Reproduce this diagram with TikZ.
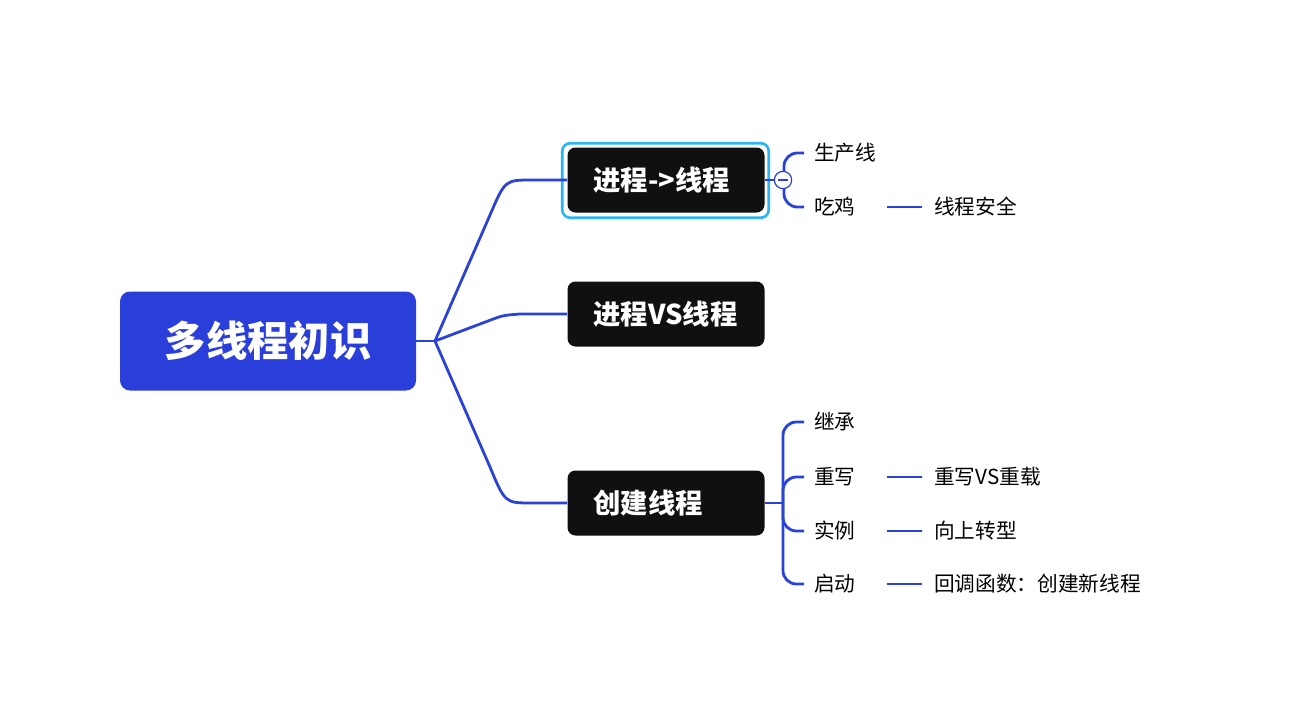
\documentclass[tikz,border=0pt]{standalone}
\usepackage{xcolor}
\usepackage{fontspec}
\setmainfont{Noto Sans CJK SC}
\usepackage{tikz}
\usetikzlibrary{arrows.meta, positioning}
\definecolor{rootblue}{HTML}{2A3FD9}
\definecolor{linkblue}{HTML}{2A42D6}
\definecolor{topicblack}{HTML}{101010}
\definecolor{selcyan}{HTML}{2BB5F4}

\begin{document}
\begin{tikzpicture}[
    x=0.75pt, y=-0.75pt,
    rootbox/.style={fill=rootblue, rounded corners=7.5pt, text=white, font=\bfseries\fontsize{31}{36}\selectfont, minimum width=222pt, minimum height=74.25pt},
    topic/.style={fill=topicblack, rounded corners=6pt, text=white, font=\bfseries\fontsize{20.5}{24}\selectfont, text width=108.75pt, align=left, inner xsep=19.5pt, minimum height=48.75pt},
    sub/.style={font=\fontsize{15.5}{18}\selectfont, text width=46.5pt, align=left, inner xsep=7.5pt, inner ysep=0pt, anchor=west},
    leaf/.style={font=\fontsize{15.5}{18}\selectfont, inner xsep=9pt, inner ysep=0pt, anchor=west},
    link/.style={draw=linkblue, line width=2.1pt},
    sel/.style={draw=selcyan, line width=2pt, rounded corners=6pt}
]
\useasboundingbox (0,0) rectangle (1307,725);

\node[rootbox] (root) at (268,341) {多线程初识};
\node[topic] (proc) at (666,180) {进程->线程};
\node[topic] (vs) at (666,314) {进程VS线程};
\node[topic] (create) at (666,503) {创建线程};
\coordinate (hub) at (435,341);

\draw[sel] ([shift={(-5,5)}]proc.south west) rectangle ([shift={(4,-4)}]proc.north east);

\draw[link] (root.east) -- (hub);
\draw[link] (hub) -- (490,215) .. controls (505,180) .. (532,180) -- (proc.west);
\draw[link] (hub) -- (488,321) .. controls (503,315.3) .. (520,314) -- (vs.west);
\draw[link] (hub) -- (490,467) .. controls (505,503) .. (532,503) -- (create.west);

\node[sub] (line) at (804,153) {生产线};
\node[sub] (chicken) at (804,207) {吃鸡};
\node[leaf] (safe) at (922,207) {线程安全};

\coordinate (fork1) at (784,180);
\draw[link] (proc.east) -- (fork1);
\draw[link, rounded corners=10pt] (fork1) |- (line.west);
\draw[link, rounded corners=10pt] (fork1) |- (chicken.west);
\draw[link] (chicken.east) -- (safe.west);
\node[circle, draw=linkblue, line width=0.9pt, fill=white, minimum size=13pt, inner sep=0pt] (fold) at (783,180) {};
\draw[linkblue, line width=0.9pt] ([xshift=-3.8pt]fold.center) -- ([xshift=3.8pt]fold.center);

\node[sub] (inherit) at (804,422) {继承};
\node[sub] (override) at (804,477) {重写};
\node[sub] (instance) at (804,531) {实例};
\node[sub] (start) at (804,584) {启动};
\node[leaf] (ovl) at (922,477) {重写VS重载};
\node[leaf] (upcast) at (922,531) {向上转型};
\node[leaf] (callback) at (922,584) {回调函数：创建新线程};

\coordinate (fork3) at (783,503);
\draw[link] (create.east) -- (fork3);
\draw[link, rounded corners=10pt] (fork3) |- (inherit.west);
\draw[link, rounded corners=10pt] (fork3) |- (override.west);
\draw[link, rounded corners=10pt] (fork3) |- (instance.west);
\draw[link, rounded corners=10pt] (fork3) |- (start.west);
\draw[link] (override.east) -- (ovl.west);
\draw[link] (instance.east) -- (upcast.west);
\draw[link] (start.east) -- (callback.west);
\end{tikzpicture}
\end{document}
